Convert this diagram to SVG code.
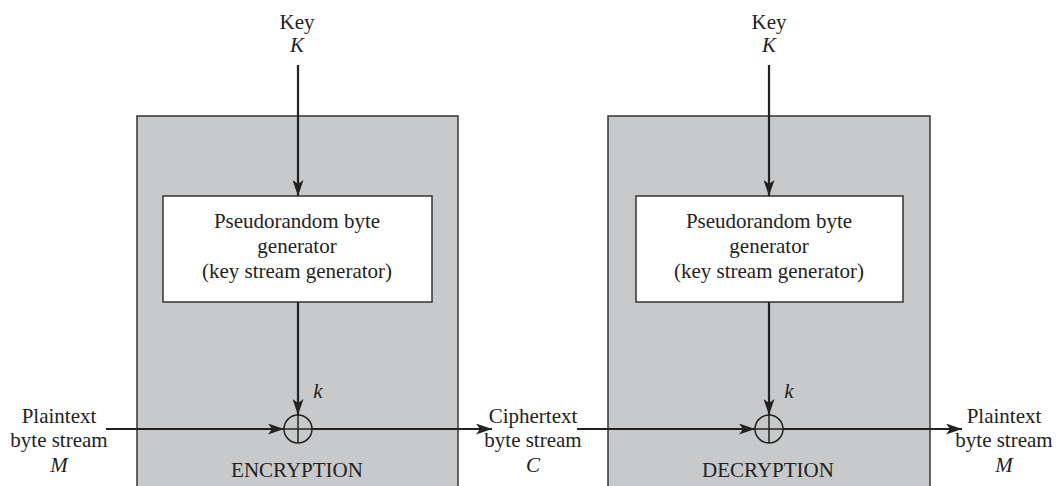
<svg xmlns="http://www.w3.org/2000/svg" width="1056" height="486" viewBox="0 0 1056 486">
<style>
text{font-family:"Liberation Serif","Times New Roman",serif;font-size:21px;fill:#222;text-anchor:middle}
.i{font-style:italic}
.outer{fill:#c8c9cb;stroke:#333;stroke-width:1.5}
.inner{fill:#fff;stroke:#333;stroke-width:1.5}
.ln{stroke:#222;stroke-width:2.2;fill:none}
.xor{fill:none;stroke:#222;stroke-width:1.5}
</style>
<defs>
<marker id="ah" viewBox="0 0 16 11" refX="16" refY="5.5" markerWidth="16" markerHeight="11" markerUnits="userSpaceOnUse" orient="auto">
<path d="M0,0 L16,5.5 L0,11 L4,5.5 Z" fill="#222"/>
</marker>
</defs>
<rect width="1056" height="486" fill="#fff"/>
<g id="enc">
<rect class="outer" x="137" y="116" width="321" height="380"/>
<text x="297" y="477">ENCRYPTION</text>
</g>
<g id="dec">
<rect class="outer" x="608" y="116" width="322" height="380"/>
<text x="768" y="477">DECRYPTION</text>
</g>
<g id="gen1">
<rect class="inner" x="163" y="196" width="269" height="106"/>
<text x="297" y="228">Pseudorandom byte</text>
<text x="297" y="253">generator</text>
<text x="297" y="278">(key stream generator)</text>
</g>
<g id="gen2">
<rect class="inner" x="636" y="196" width="267" height="106"/>
<text x="769" y="228">Pseudorandom byte</text>
<text x="769" y="253">generator</text>
<text x="769" y="278">(key stream generator)</text>
</g>
<g id="xor1">
<circle class="xor" cx="298" cy="429" r="14"/>
<line class="xor" x1="284" y1="429" x2="312" y2="429"/>
<line class="xor" x1="298" y1="415" x2="298" y2="443"/>
</g>
<g id="xor2">
<circle class="xor" cx="769" cy="429" r="14"/>
<line class="xor" x1="755" y1="429" x2="783" y2="429"/>
<line class="xor" x1="769" y1="415" x2="769" y2="443"/>
</g>
<g id="key1">
<text x="297" y="29">Key</text>
<text class="i" x="297" y="52">K</text>
</g>
<g id="key2">
<text x="769" y="29">Key</text>
<text class="i" x="769" y="52">K</text>
</g>
<g id="pt-in">
<text x="59" y="423">Plaintext</text>
<text x="59" y="447">byte stream</text>
<text class="i" x="59" y="472">M</text>
</g>
<g id="ct">
<text x="533" y="423">Ciphertext</text>
<text x="533" y="447">byte stream</text>
<text class="i" x="533" y="472">C</text>
</g>
<g id="pt-out">
<text x="1004" y="423">Plaintext</text>
<text x="1004" y="447">byte stream</text>
<text class="i" x="1004" y="472">M</text>
</g>
<g id="connectors">
<line class="ln" x1="298" y1="65" x2="298" y2="196" marker-end="url(#ah)"/>
<line class="ln" x1="769" y1="65" x2="769" y2="196" marker-end="url(#ah)"/>
<line class="ln" x1="298" y1="302" x2="298" y2="415" marker-end="url(#ah)"/>
<line class="ln" x1="769" y1="302" x2="769" y2="415" marker-end="url(#ah)"/>
<line class="ln" x1="106" y1="429" x2="284" y2="429" marker-end="url(#ah)"/>
<line class="ln" x1="312" y1="429" x2="492" y2="429" marker-end="url(#ah)"/>
<line class="ln" x1="577" y1="429" x2="755" y2="429" marker-end="url(#ah)"/>
<line class="ln" x1="783" y1="429" x2="962" y2="429" marker-end="url(#ah)"/>
<text class="i" x="318" y="398">k</text>
<text class="i" x="789" y="398">k</text>
</g>
</svg>
